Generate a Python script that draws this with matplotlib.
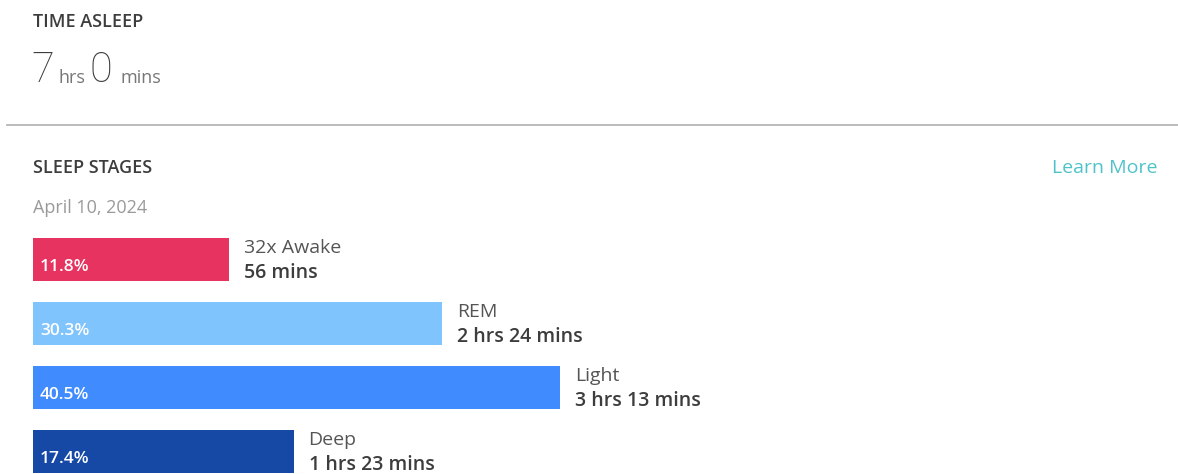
import matplotlib.pyplot as plt

plt.rcParams["font.family"] = ["Open Sans", "DejaVu Sans"]

W, H = 1178, 474

stages = ["Awake", "REM", "Light", "Deep"]
percents = [11.8, 30.3, 40.5, 17.4]
minutes = [56, 144, 193, 83]
awake_count = 32
colors = ["#e73360", "#7fc4fd", "#408cff", "#1549a5"]
date_label = "April 10, 2024"
total_hours, total_mins = 7, 0

# bars start a little left of zero (the app gives every bar a minimum length)
OFFSET = 5.18


def fmt_minutes(m):
    if m < 60:
        return f"{m} mins"
    return f"{m // 60} hrs {m % 60} mins"


def fx(px):
    return px / W


def fy(py):
    return 1 - py / H


def plot_sleep_stages():
    fig = plt.figure(figsize=(W / 100, H / 100), dpi=100)
    fig.patch.set_facecolor("white")

    # header
    fig.text(fx(33), fy(22), "TIME ASLEEP", fontsize=13, fontweight="semibold",
             color="#3d3d3d", va="center")
    fig.text(fx(31), fy(71), str(total_hours), fontsize=30, fontweight="light",
             color="#3d3d3d", va="center", family=["Roboto", "DejaVu Sans"])
    fig.text(fx(58), fy(78), "hrs", fontsize=13, color="#777777", va="center")
    fig.text(fx(89), fy(71), str(total_mins), fontsize=30, fontweight="light",
             color="#3d3d3d", va="center", family=["Roboto", "DejaVu Sans"])
    fig.text(fx(121), fy(78), "mins", fontsize=13, color="#777777", va="center")

    line_ax = fig.add_axes([0, 0, 1, 1], facecolor="none")
    line_ax.set_xlim(0, W)
    line_ax.set_ylim(H, 0)
    line_ax.axis("off")
    line_ax.plot([7, W], [125, 125], color="#b5b5b5", lw=1.3)

    fig.text(fx(33), fy(168), "SLEEP STAGES", fontsize=13, fontweight="semibold",
             color="#3d3d3d", va="center")
    fig.text(fx(1157), fy(168), "Learn More", fontsize=14, color="#4fc3ca",
             va="center", ha="right")
    fig.text(fx(33), fy(208), date_label, fontsize=13, color="#9a9a9a",
             va="center")

    # bars
    ax = fig.add_axes([fx(33), 0, 1 - fx(33), fy(230)])
    px_per_pct = 11.54
    ax.set_xlim(-OFFSET, -OFFSET + (W - 33) / px_per_pct)
    ax.set_ylim((474 - 259.5) / 64, -(259.5 - 230) / 64)
    ax.axis("off")

    ypos = list(range(len(stages)))
    ax.barh(ypos, [p + OFFSET for p in percents], left=-OFFSET, height=43 / 64,
            color=colors)

    gap = 15 / px_per_pct
    for i, (name, p, m) in enumerate(zip(stages, percents, minutes)):
        label = f"{awake_count}x {name}" if name == "Awake" else name
        ax.text(p + gap, i - 0.18, label, fontsize=14, color="#555555",
                va="center")
        ax.text(p + gap, i + 0.21, fmt_minutes(m), fontsize=14,
                fontweight="semibold", color="#3d3d3d", va="center")
        ax.text(-OFFSET + 7 / px_per_pct, i + 0.12, f"{p}%", fontsize=12.5,
                fontweight="semibold", color="white", va="center")

    fig.savefig("out.png", dpi=100)


if __name__ == "__main__":
    plot_sleep_stages()
